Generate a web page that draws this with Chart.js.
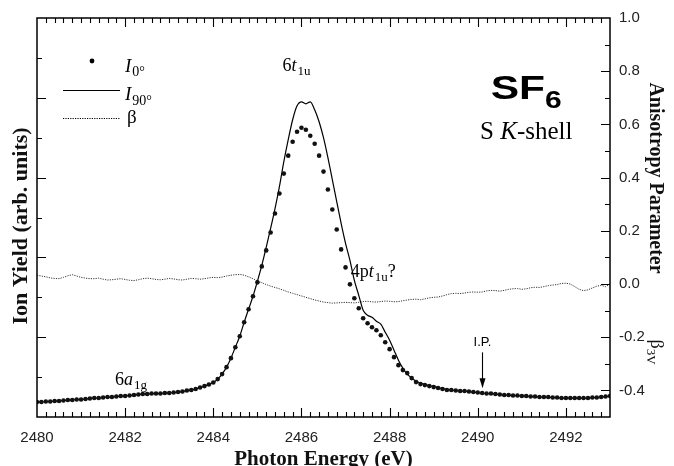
<!DOCTYPE html>
<html><head><meta charset="utf-8">
<script src="https://cdn.jsdelivr.net/npm/chart.js@4"></script>
<style>html,body{margin:0;padding:0;background:#fff}#wrap{width:674px;height:466px;position:relative}</style>
</head><body><div id="wrap"><canvas id="c" width="674" height="466"></canvas></div>
<script>
// Photon energy grid (eV)
const energies = [
2480.0,2480.1,2480.2,2480.3,2480.4,2480.5,2480.6,2480.7,2480.8,2480.9,
2481.0,2481.1,2481.2,2481.3,2481.4,2481.5,2481.6,2481.7,2481.8,2481.9,
2482.0,2482.1,2482.2,2482.3,2482.4,2482.5,2482.6,2482.7,2482.8,2482.9,
2483.0,2483.1,2483.2,2483.3,2483.4,2483.5,2483.6,2483.7,2483.8,2483.9,
2484.0,2484.1,2484.2,2484.3,2484.4,2484.5,2484.6,2484.7,2484.8,2484.9,
2485.0,2485.1,2485.2,2485.3,2485.4,2485.5,2485.6,2485.7,2485.8,2485.9,
2486.0,2486.1,2486.2,2486.3,2486.4,2486.5,2486.6,2486.7,2486.8,2486.9,
2487.0,2487.1,2487.2,2487.3,2487.4,2487.5,2487.6,2487.7,2487.8,2487.9,
2488.0,2488.1,2488.2,2488.3,2488.4,2488.5,2488.6,2488.7,2488.8,2488.9,
2489.0,2489.1,2489.2,2489.3,2489.4,2489.5,2489.6,2489.7,2489.8,2489.9,
2490.0,2490.1,2490.2,2490.3,2490.4,2490.5,2490.6,2490.7,2490.8,2490.9,
2491.0,2491.1,2491.2,2491.3,2491.4,2491.5,2491.6,2491.7,2491.8,2491.9,
2492.0,2492.1,2492.2,2492.3,2492.4,2492.5,2492.6,2492.7,2492.8,2492.9,
2493.0];

// Ion yield at 0 deg (dots), arb. units
const yieldI0 = [
0.375,0.375,0.388,0.388,0.400,0.400,0.413,0.425,0.425,0.438,
0.438,0.450,0.463,0.475,0.475,0.488,0.500,0.500,0.513,0.525,
0.525,0.538,0.550,0.563,0.575,0.575,0.588,0.588,0.588,0.600,
0.600,0.613,0.625,0.638,0.663,0.675,0.700,0.738,0.775,0.813,
0.863,0.950,1.075,1.250,1.475,1.750,2.025,2.375,2.700,3.025,
3.375,3.775,4.175,4.625,5.100,5.600,6.100,6.550,6.900,7.150,
7.250,7.200,7.050,6.850,6.550,6.150,5.700,5.200,4.700,4.200,
3.750,3.325,2.975,2.725,2.475,2.350,2.250,2.175,2.050,1.875,
1.700,1.500,1.300,1.175,1.100,0.975,0.875,0.825,0.800,0.775,
0.750,0.725,0.700,0.675,0.675,0.663,0.650,0.650,0.638,0.625,
0.613,0.600,0.588,0.588,0.575,0.563,0.550,0.550,0.538,0.538,
0.525,0.525,0.513,0.513,0.500,0.500,0.500,0.488,0.488,0.475,
0.475,0.475,0.475,0.475,0.475,0.475,0.488,0.488,0.500,0.513,
0.525];

// Ion yield at 90 deg (solid line), arb. units
const yieldI90 = [
0.375,0.375,0.388,0.388,0.400,0.400,0.413,0.425,0.425,0.438,
0.438,0.450,0.463,0.475,0.475,0.488,0.500,0.500,0.513,0.525,
0.525,0.538,0.550,0.563,0.575,0.575,0.588,0.588,0.588,0.600,
0.600,0.613,0.625,0.638,0.663,0.675,0.700,0.738,0.775,0.813,
0.863,0.950,1.075,1.250,1.475,1.750,2.025,2.375,2.700,3.025,
3.400,3.800,4.250,4.725,5.225,5.775,6.400,6.950,7.450,7.800,
7.900,7.850,7.900,7.700,7.400,7.000,6.500,5.950,5.400,4.850,
4.350,3.925,3.425,3.050,2.675,2.550,2.500,2.400,2.325,2.125,
1.925,1.675,1.425,1.225,1.075,0.975,0.900,0.850,0.813,0.788,
0.763,0.738,0.713,0.688,0.675,0.663,0.650,0.650,0.638,0.625,
0.613,0.600,0.588,0.588,0.575,0.563,0.550,0.550,0.538,0.538,
0.525,0.525,0.513,0.513,0.500,0.500,0.500,0.488,0.488,0.475,
0.475,0.475,0.475,0.475,0.475,0.475,0.488,0.488,0.500,0.513,
0.525];

// Anisotropy parameter beta (dotted line)
const betaValues = [
0.033,0.030,0.027,0.023,0.021,0.020,0.025,0.031,0.035,0.030,
0.025,0.022,0.020,0.020,0.022,0.018,0.015,0.016,0.018,0.020,
0.017,0.014,0.013,0.016,0.020,0.022,0.020,0.017,0.016,0.018,
0.021,0.019,0.016,0.015,0.018,0.021,0.020,0.018,0.020,0.023,
0.025,0.024,0.026,0.030,0.033,0.035,0.036,0.033,0.027,0.020,
0.012,0.005,-0.002,-0.008,-0.013,-0.018,-0.024,-0.030,-0.035,-0.040,
-0.045,-0.050,-0.055,-0.060,-0.064,-0.068,-0.070,-0.072,-0.071,-0.070,
-0.069,-0.070,-0.071,-0.069,-0.066,-0.065,-0.067,-0.068,-0.066,-0.064,
-0.065,-0.067,-0.066,-0.063,-0.060,-0.058,-0.057,-0.059,-0.056,-0.052,
-0.050,-0.049,-0.045,-0.040,-0.036,-0.035,-0.036,-0.034,-0.031,-0.030,
-0.031,-0.030,-0.026,-0.024,-0.025,-0.027,-0.024,-0.020,-0.018,-0.017,
-0.020,-0.018,-0.014,-0.012,-0.013,-0.010,-0.006,-0.004,-0.002,0.002,
0.003,0.000,-0.010,-0.020,-0.025,-0.022,-0.015,-0.008,-0.005,-0.010,
0.000];

const xTickValues = [2480, 2482, 2484, 2486, 2488, 2490, 2492];
const betaTickValues = [-0.4, -0.2, 0.0, 0.2, 0.4, 0.6, 0.8, 1.0];
const ionIP = 2490.1;

const SERIF = '"Liberation Serif", "Times New Roman", serif';
const SANS = '"Liberation Sans", Arial, sans-serif';

function pts(xs, ys) { return xs.map((x, i) => ({ x: x, y: ys[i] })); }

// draw a run of text segments [{t, font, dy}]
function rich(ctx, x, y, parts, align) {
  let w = 0;
  parts.forEach(p => { ctx.font = p.font; w += ctx.measureText(p.t).width + (p.gap || 0); });
  let cx = align === 'center' ? x - w / 2 : (align === 'right' ? x - w : x);
  ctx.textAlign = 'left';
  ctx.textBaseline = 'alphabetic';
  parts.forEach(p => {
    ctx.font = p.font;
    ctx.fillText(p.t, cx, y + (p.dy || 0));
    cx += ctx.measureText(p.t).width + (p.gap || 0);
  });
}

const decor = {
  id: 'decor',
  afterDraw(chart) {
    const ctx = chart.ctx;
    const a = chart.chartArea;
    const sx = chart.scales.x, sy = chart.scales.y, sb = chart.scales.y2;
    ctx.save();
    ctx.strokeStyle = '#000';
    ctx.fillStyle = '#000';
    // frame
    ctx.lineWidth = 1.5;
    ctx.strokeRect(a.left, a.top, a.right - a.left, a.bottom - a.top);
    // x ticks (bottom & top), minor every 0.2, major every 2
    ctx.lineWidth = 1.1;
    ctx.beginPath();
    for (let k = 1; k < 65; k++) {
      const v = 2480 + k * 0.2;
      const px = Math.round(sx.getPixelForValue(v)) + 0.5;
      const len = (k % 10 === 0) ? 9 : 5;
      ctx.moveTo(px, a.bottom); ctx.lineTo(px, a.bottom - len);
      ctx.moveTo(px, a.top); ctx.lineTo(px, a.top + len);
    }
    // left ticks
    for (let v = 1; v <= 9; v++) {
      const py = Math.round(sy.getPixelForValue(v)) + 0.5;
      const len = (v % 2 === 0) ? 9 : 5;
      ctx.moveTo(a.left, py); ctx.lineTo(a.left + len, py);
    }
    // right ticks, minor every 0.1
    for (let k = -4; k <= 9; k++) {
      const v = k / 10;
      const py = Math.round(sb.getPixelForValue(v)) + 0.5;
      const len = (k % 2 === 0) ? 9 : 5;
      ctx.moveTo(a.right, py); ctx.lineTo(a.right - len, py);
    }
    ctx.stroke();

    // axis titles
    ctx.fillStyle = '#111';
    ctx.textAlign = 'center';
    ctx.textBaseline = 'alphabetic';
    ctx.font = 'bold 21px ' + SERIF;
    ctx.fillText('Photon Energy (eV)', (a.left + a.right) / 2, 465);
    ctx.font = 'bold 22px ' + SERIF;
    ctx.save();
    ctx.translate(27, 226);
    ctx.rotate(-Math.PI / 2);
    ctx.fillText('Ion Yield (arb. units)', 0, 0);
    ctx.restore();
    ctx.font = 'bold 20px ' + SERIF;
    ctx.save();
    ctx.translate(650, 178);
    ctx.rotate(Math.PI / 2);
    ctx.fillText('Anisotropy Parameter', 0, 0);
    ctx.restore();
    ctx.save();
    ctx.translate(651, 352);
    ctx.rotate(Math.PI / 2);
    rich(ctx, 0, 0, [
      { t: 'β', font: '18px ' + SERIF },
      { t: '3V', font: '13px ' + SERIF, dy: 4 }
    ], 'center');
    ctx.restore();

    // annotations
    ctx.fillStyle = '#000';
    rich(ctx, sx.getPixelForValue(2485.57), sy.getPixelForValue(8.68), [
      { t: '6', font: '18px ' + SERIF },
      { t: 't', font: 'italic 18px ' + SERIF, gap: 1 },
      { t: '1u', font: '13px ' + SERIF, dy: 4 }
    ], 'left');
    rich(ctx, sx.getPixelForValue(2487.12), sy.getPixelForValue(3.5), [
      { t: '4p', font: '18px ' + SERIF },
      { t: 't', font: 'italic 18px ' + SERIF, gap: 1 },
      { t: '1u', font: '13px ' + SERIF, dy: 4 },
      { t: '?', font: '18px ' + SERIF }
    ], 'left');
    rich(ctx, sx.getPixelForValue(2481.77), sy.getPixelForValue(0.8), [
      { t: '6', font: '18px ' + SERIF },
      { t: 'a', font: 'italic 18px ' + SERIF, gap: 1 },
      { t: '1g', font: '13px ' + SERIF, dy: 4 }
    ], 'left');

    // I.P. arrow
    const ipx = Math.round(sx.getPixelForValue(ionIP)) + 0.5;
    ctx.font = '13px ' + SANS;
    ctx.textAlign = 'center';
    ctx.fillText('I.P.', ipx, sy.getPixelForValue(1.78));
    ctx.lineWidth = 1.1;
    ctx.beginPath();
    ctx.moveTo(ipx, sy.getPixelForValue(1.62));
    ctx.lineTo(ipx, sy.getPixelForValue(0.9));
    ctx.stroke();
    ctx.beginPath();
    const tipY = sy.getPixelForValue(0.72);
    ctx.moveTo(ipx, tipY);
    ctx.lineTo(ipx - 3, tipY - 10);
    ctx.lineTo(ipx + 3, tipY - 10);
    ctx.closePath();
    ctx.fill();

    // SF6 / S K-shell
    const cx = sx.getPixelForValue(2491.1);
    ctx.save();
    ctx.translate(cx, sy.getPixelForValue(7.97));
    ctx.scale(1.25, 1);
    rich(ctx, 0, 0, [
      { t: 'SF', font: 'bold 34px ' + SANS },
      { t: '6', font: 'bold 24px ' + SANS, dy: 9 }
    ], 'center');
    ctx.restore();
    rich(ctx, cx, sy.getPixelForValue(6.97), [
      { t: 'S ', font: '25px ' + SERIF },
      { t: 'K', font: 'italic 25px ' + SERIF },
      { t: '-shell', font: '25px ' + SERIF }
    ], 'center');

    // legend
    const lx0 = a.left + 26, lx1 = a.left + 83, tx = a.left + 88;
    ctx.beginPath();
    ctx.arc(a.left + 55, 61, 2.4, 0, Math.PI * 2);
    ctx.fill();
    rich(ctx, tx, 72, [
      { t: 'I', font: 'italic 19px ' + SERIF, gap: 1 },
      { t: '0°', font: '14px ' + SERIF, dy: 4 }
    ], 'left');
    ctx.lineWidth = 1.2;
    ctx.beginPath(); ctx.moveTo(lx0, 90.5); ctx.lineTo(lx1, 90.5); ctx.stroke();
    rich(ctx, tx, 100, [
      { t: 'I', font: 'italic 19px ' + SERIF, gap: 1 },
      { t: '90°', font: '14px ' + SERIF, dy: 5 }
    ], 'left');
    ctx.lineWidth = 1;
    ctx.setLineDash([1.2, 1.2]);
    ctx.beginPath(); ctx.moveTo(lx0, 118.5); ctx.lineTo(lx1, 118.5); ctx.stroke();
    ctx.setLineDash([]);
    rich(ctx, tx + 2, 123, [{ t: 'β', font: '19px ' + SERIF }], 'left');
    ctx.restore();
  }
};

new Chart(document.getElementById('c'), {
  type: 'line',
  data: {
    datasets: [
      { label: 'I0°', data: pts(energies, yieldI0), yAxisID: 'y', showLine: false,
        pointRadius: 2.3, pointBackgroundColor: '#111', pointBorderWidth: 0, borderColor: '#111' },
      { label: 'I90°', data: pts(energies, yieldI90), yAxisID: 'y', borderColor: '#000',
        borderWidth: 1.2, pointRadius: 0, cubicInterpolationMode: 'monotone' },
      { label: 'β', data: pts(energies, betaValues), yAxisID: 'y2', borderColor: '#333',
        borderWidth: 1, borderDash: [1.2, 1.2], pointRadius: 0 }
    ]
  },
  options: {
    responsive: false,
    animation: false,
    devicePixelRatio: 1,
    layout: { padding: { top: 17, left: 0, right: 0, bottom: 0 } },
    plugins: { legend: { display: false }, tooltip: { enabled: false } },
    scales: {
      x: {
        type: 'linear', position: 'bottom', min: 2480, max: 2493,
        grid: { display: false, drawTicks: false },
        border: { display: false },
        afterBuildTicks: s => { s.ticks = xTickValues.map(v => ({ value: v })); },
        ticks: { color: '#222', font: { family: SANS, size: 15 }, padding: 12, maxRotation: 0,
          callback: v => String(v) },
        afterFit: s => { s.height = 49; }
      },
      y: {
        position: 'left', min: 0, max: 10,
        grid: { display: false, drawTicks: false },
        border: { display: false },
        ticks: { display: false },
        afterFit: s => { s.width = 37; }
      },
      y2: {
        position: 'right', min: -0.5, max: 1.0,
        grid: { display: false, drawTicks: false },
        border: { display: false },
        afterBuildTicks: s => { s.ticks = betaTickValues.map(v => ({ value: v })); },
        ticks: { color: '#222', font: { family: SANS, size: 15 }, padding: 9,
          callback: v => v.toFixed(1) },
        afterFit: s => { s.width = 64; }
      }
    }
  },
  plugins: [decor]
});
</script>
</body></html>
